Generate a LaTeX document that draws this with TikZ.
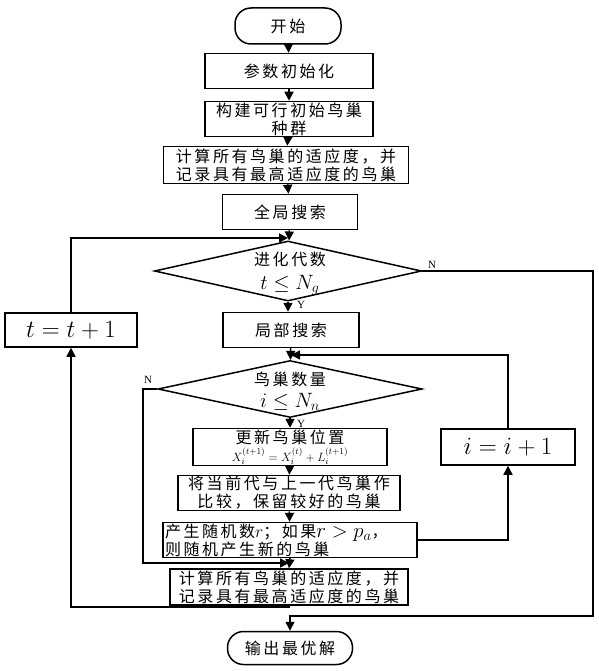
\documentclass[tikz,border=0pt]{standalone}
\usepackage{fontspec}
\newfontfamily\cjk[LetterSpace=16]{Noto Sans CJK SC}
\newfontfamily\tms{Liberation Serif}
\usetikzlibrary{shapes.geometric,arrows.meta}
\tikzset{
  box/.style={draw, line width=1.5pt, inner sep=1pt, align=center,
    font=\cjk\fontsize{16}{18}\selectfont},
  term/.style={box, rounded corners=16pt},
  dec/.style={diamond, draw, line width=1.5pt, inner sep=0pt},
  dectext/.style={align=center, inner sep=0pt, font=\cjk\fontsize{16}{18}\selectfont},
  arr/.style={line width=1.5pt, -{Triangle[length=9pt,width=9pt]}},
  lbl/.style={font=\tms\fontsize{11}{12}\selectfont, inner sep=0pt}
}
\begin{document}
\begin{tikzpicture}[x=1pt,y=-1pt]
\useasboundingbox (0,0) rectangle (598,671);
\fill[white] (0,0) rectangle (598,671);

\node[term, minimum width=106pt, minimum height=36pt] (start) at (288,26) {开始};
\node[box, minimum width=168pt, minimum height=35pt] (init) at (289,71) {参数初始化};
\node[box, minimum width=168pt, minimum height=35pt] (build) at (289,119) {构建可行初始鸟巢\\种群};
\node[box, minimum width=245pt, minimum height=37pt] (calc1) at (286,165) {计算所有鸟巢的适应度，并\\记录具有最高适应度的鸟巢};
\node[box, minimum width=135pt, minimum height=35pt] (glob) at (290,212) {全局搜索};
\node[dec, minimum width=267pt, minimum height=60pt] (d1) at (288,271) {};
\node[dectext] (d1t) at (290,274)
  {进化代数\\[6pt]{\fontsize{22}{22}\selectfont$t\le N_g$}};
\node[box, minimum width=136pt, minimum height=35pt] (local) at (291,330) {局部搜索};
\node[box, minimum width=132pt, minimum height=34pt] (tinc) at (71,330) {\fontsize{24}{24}\selectfont$t=t+1$};
\node[dec, minimum width=264pt, minimum height=57pt] (d2) at (290,389) {};
\node[dectext] (d2t) at (290,391)
  {鸟巢数量\\[4pt]{\fontsize{22}{22}\selectfont$i\le N_n$}};
\node[box, minimum width=194pt, minimum height=36pt] (upd) at (290,447)
  {更新鸟巢位置\\[0pt]{\fontsize{13}{13}\selectfont$X_i^{(t+1)}=X_i^{(t)}+L_i^{(t+1)}$}};
\node[box, minimum width=222pt, minimum height=35pt] (cmp) at (289,493) {将当前代与上一代鸟巢作\\比较，保留较好的鸟巢};
\node[box, minimum width=254pt, minimum height=34pt, align=left, text width=250pt] (rnd) at (290,540)
  {产生随机数{\fontsize{17}{16}\selectfont$r$}；如果{\fontsize{20}{16}\selectfont$r>p_a$}，\\则随机产生新的鸟巢};
\node[box, minimum width=134pt, minimum height=36pt] (iinc) at (508,447) {\fontsize{24}{24}\selectfont$i=i+1$};
\node[box, minimum width=238pt, minimum height=36pt] (calc2) at (289,587) {计算所有鸟巢的适应度，并\\记录具有最高适应度的鸟巢};
\node[term, minimum width=125pt, minimum height=33pt] (out) at (290,648) {输出最优解};

\coordinate (m1) at (288,238);
\coordinate (m2) at (291,355);
\coordinate (m4) at (289,563);
\coordinate (m3) at (290,616);
\coordinate (rc) at (593,616);
\coordinate (lc) at (143,563);
\coordinate (bc) at (71,607);

\draw[arr] (start) -- (init);
\draw[arr] (init) -- (build);
\draw[arr] (build) -- (calc1);
\draw[arr] (calc1) -- (glob);
\draw[arr] (glob) -- (d1);
\draw[arr] (tinc.north) |- (m1);
\draw[arr] (d1.east) -| (rc) -- (m3) -- (out.north);
\draw[arr] (d1.south) -- (d1.south |- local.north);
\draw[arr] (local) -- (d2);
\draw[arr] (iinc.north) |- (m2);
\draw[arr] (d2.south) -- (d2.south |- upd.north);
\draw[arr] (upd) -- (cmp);
\draw[arr] (cmp) -- (rnd);
\draw[arr] (rnd.east) -| (iinc.south);
\draw[arr] (d2.west) -| (lc) -- (m4);
\draw[arr] (rnd.south) -- (calc2.north);
\draw[arr] (calc2.south) |- (bc) -- (tinc.south);

\node[lbl] (n1) at (432,265) {N};
\node[lbl] (y1) at (301,305) {Y};
\node[lbl] (n2) at (148,380) {N};
\node[lbl] (y2) at (301,424) {Y};
\end{tikzpicture}
\end{document}
